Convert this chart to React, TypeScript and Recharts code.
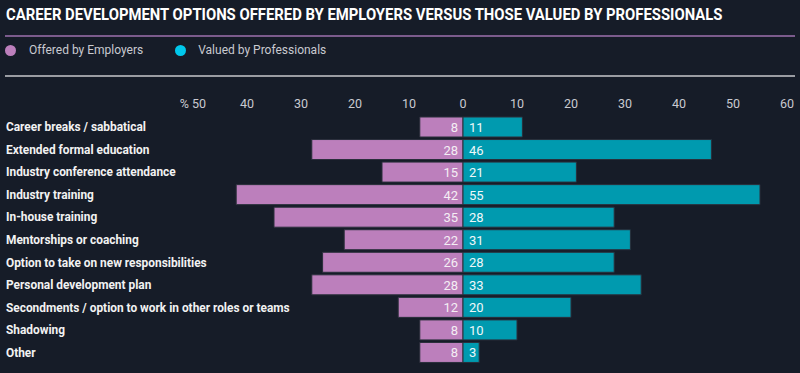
import { BarChart, Bar, XAxis, YAxis, LabelList } from 'recharts'

const categories = [
  'Career breaks / sabbatical',
  'Extended formal education',
  'Industry conference attendance',
  'Industry training',
  'In-house training',
  'Mentorships or coaching',
  'Option to take on new responsibilities',
  'Personal development plan',
  'Secondments / option to work in other roles or teams',
  'Shadowing',
  'Other',
]
const offeredByEmployers = [8, 28, 15, 42, 35, 22, 26, 28, 12, 8, 8]
const valuedByProfessionals = [11, 46, 21, 55, 28, 31, 28, 33, 20, 10, 3]
const xTicks = [-50, -40, -30, -20, -10, 0, 10, 20, 30, 40, 50, 60]

const BG = '#161c28'
const PINK = '#bc7fbc'
const CYAN = '#009aaf'
const FONT = 'Roboto, sans-serif'

const data = categories.map((name, i) => ({
  name,
  employers: -offeredByEmployers[i],
  professionals: valuedByProfessionals[i],
}))

// the original face is a narrow one, so squeeze Roboto horizontally
function CategoryTick({ y, payload }: any) {
  return (
    <text transform={`translate(6, ${y + 4}) scale(0.915, 1)`} fill="#f2f2f2" fontSize={13} fontWeight={700} fontFamily={FONT}>
      {payload.value}
    </text>
  )
}

function EmployerLabel({ x, y, width, height, value }: any) {
  const right = Math.max(x, x + width)
  return (
    <text x={right - 5} y={y + height / 2} dy={5} textAnchor="end" fill="#f4eef4" fontSize={13} fontFamily={FONT}>
      {Math.abs(value)}
    </text>
  )
}

function ProfessionalLabel({ x, y, width, height, value }: any) {
  const left = Math.min(x, x + width)
  return (
    <text x={left + 6} y={y + height / 2} dy={5} textAnchor="start" fill="#eef8fa" fontSize={13} fontFamily={FONT}>
      {value}
    </text>
  )
}

export default function App() {
  return (
    <div style={{ position: 'fixed', left: 0, top: 0, width: 800, height: 373, background: BG, fontFamily: FONT }}>
      <svg width={800} height={32} style={{ position: 'absolute', left: 0, top: 0 }}>
        <text transform="translate(6, 20) scale(0.9, 1)" fill="#ffffff" fontSize={16.5} fontWeight={700} fontFamily={FONT}>
          CAREER DEVELOPMENT OPTIONS OFFERED BY EMPLOYERS VERSUS THOSE VALUED BY PROFESSIONALS
        </text>
      </svg>
      <div style={{ position: 'absolute', left: 5, top: 35, width: 790, height: 1.5, background: '#7b5b8c' }} />
      <div style={{ position: 'absolute', left: 5, top: 43, display: 'flex', alignItems: 'center', color: '#c9cad0', fontSize: 12 }}>
        <span style={{ width: 11, height: 11, borderRadius: '50%', background: PINK, display: 'inline-block' }} />
        <span style={{ marginLeft: 13 }}>Offered by Employers</span>
        <span style={{ width: 11, height: 11, borderRadius: '50%', background: '#00c8ec', display: 'inline-block', marginLeft: 32 }} />
        <span style={{ marginLeft: 12 }}>Valued by Professionals</span>
      </div>
      <div style={{ position: 'absolute', left: 5, top: 75, width: 790, height: 2, background: '#9a9ca2' }} />
      <div style={{ position: 'absolute', left: 0, top: 0 }}>
        <BarChart
          width={800}
          height={373}
          data={data}
          layout="vertical"
          stackOffset="sign"
          barSize={20}
          margin={{ top: 86, right: 13, left: 0, bottom: 9 }}
        >
          <XAxis
            type="number"
            orientation="top"
            domain={[-50, 60]}
            ticks={xTicks}
            interval={0}
            height={30}
            axisLine={false}
            tickLine={false}
            tick={{ fill: '#c9cad0', fontSize: 12.5, fontFamily: FONT }}
            tickFormatter={(v: number) => (v === -50 ? '% 50' : String(Math.abs(v)))}
          />
          <YAxis
            type="category"
            dataKey="name"
            width={193}
            axisLine={false}
            tickLine={false}
            interval={0}
            tick={<CategoryTick />}
          />
          <Bar dataKey="employers" stackId="a" fill={PINK} stroke="#2a2f3b" strokeWidth={1} isAnimationActive={false}>
            <LabelList dataKey="employers" content={<EmployerLabel />} />
          </Bar>
          <Bar dataKey="professionals" stackId="a" fill={CYAN} stroke="#2a2f3b" strokeWidth={1} isAnimationActive={false}>
            <LabelList dataKey="professionals" content={<ProfessionalLabel />} />
          </Bar>
        </BarChart>
      </div>
    </div>
  )
}
